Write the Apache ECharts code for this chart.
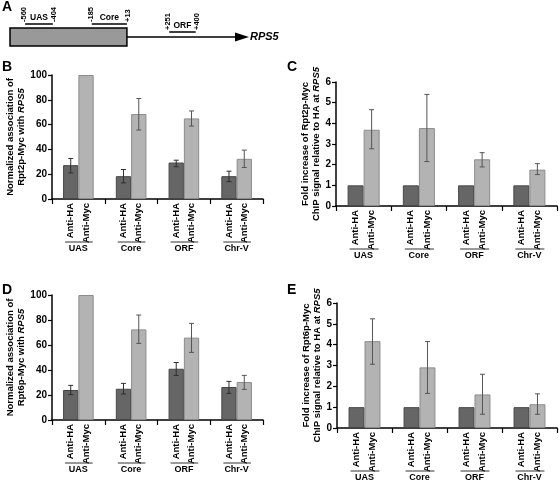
<!DOCTYPE html>
<html><head><meta charset="utf-8">
<script src="https://cdn.jsdelivr.net/npm/echarts@6/dist/echarts.min.js"></script>
<style>html,body{margin:0;padding:0;background:#fff}#c{width:560px;height:484px}</style>
</head><body><div id="c"></div>
<script>
// ---------- data ----------
const categories = ['UAS', 'Core', 'ORF', 'Chr-V'];
const barNames = ['Anti-HA', 'Anti-Myc'];
// Panel B (Rpt2p-Myc, normalized association)
const bHA = [27.3, 18.4, 29.4, 18.4];
const bHALo = [21, 13, 26, 14];
const bHAHi = [32.7, 23.8, 31.3, 22.4];
const bMyc = [100, 68.5, 65, 32.4];
const bMycLo = [null, 55.6, 58.8, 25.4];
const bMycHi = [null, 81, 71, 39.4];
// Panel C (Rpt2p-Myc, fold increase)
const cHA = [1, 1, 1, 1];
const cMyc = [3.69, 3.77, 2.26, 1.76];
const cMycLo = [2.77, 2.15, 1.89, 1.52];
const cMycHi = [4.66, 5.4, 2.58, 2.05];
// Panel D (Rpt6p-Myc, normalized association)
const dHA = [24, 25, 41, 26.4];
const dHALo = [20.3, 20.8, 35.7, 21.3];
const dHAHi = [27.7, 29.3, 46, 30.9];
const dMyc = [100, 72.5, 65.9, 30.4];
const dMycLo = [null, 61.3, 54.1, 24.5];
const dMycHi = [null, 84, 77.3, 35.7];
// Panel E (Rpt6p-Myc, fold increase)
const eHA = [1, 1, 1, 1];
const eMyc = [4.17, 2.91, 1.61, 1.14];
const eMycLo = [3.06, 1.66, 0.66, 0.66];
const eMycHi = [5.24, 4.15, 2.58, 1.64];
// Panel A (gene map, bp relative to ATG)
const regionNames = ['UAS', 'Core', 'ORF'];
const regionStart = [-560, -185, 251];
const regionEnd = [-404, 13, 400];
const startLabels = ['-560', '-185', '+251'];
const endLabels = ['-404', '+13', '+400'];
const promoter = [-645, 13];
const geneEnd = 700;
const geneName = 'RPS5';

// ---------- styles ----------
const FF = '"Liberation Sans", Arial, sans-serif';
const CAT_GAP = 0.42;

function barAxes(gridIndex, max, interval, nameText, nameGap) {
  return {
    x: {
      type: 'category', gridIndex, data: categories,
      axisLine: { lineStyle: { color: '#000', width: 1.5 } },
      axisTick: { show: true, length: 5, lineStyle: { color: '#000', width: 1.2 } },
      axisLabel: { show: false }
    },
    y: {
      type: 'value', gridIndex, min: 0, max, interval,
      axisLine: { show: true, lineStyle: { color: '#000', width: 1.5 } },
      axisTick: { show: true, length: 4, lineStyle: { color: '#000', width: 1.2 } },
      splitLine: { show: false },
      axisLabel: { color: '#000', fontFamily: FF, fontWeight: 'bold', fontSize: 10, margin: 5 },
      name: nameText, nameLocation: 'middle', nameGap, nameRotate: 90,
      nameTextStyle: {
        color: '#000', fontFamily: FF, fontWeight: 'bold', fontSize: 9.5, lineHeight: 11,
        rich: { i: { fontFamily: FF, fontWeight: 'bold', fontStyle: 'italic', fontSize: 9.5, lineHeight: 11, color: '#000' } }
      }
    }
  };
}

function panelSeries(axisIndex, ha, haLo, haHi, myc, mycLo, mycHi) {
  const common = { type: 'bar', xAxisIndex: axisIndex, yAxisIndex: axisIndex, barGap: '0%', barCategoryGap: (CAT_GAP * 100) + '%' };
  const lows = [haLo, mycLo], highs = [haHi, mycHi];
  return [
    Object.assign({}, common, { name: 'Anti-HA', data: ha, itemStyle: { color: '#666666', borderColor: '#474747', borderWidth: 1 } }),
    Object.assign({}, common, { name: 'Anti-Myc', data: myc, itemStyle: { color: '#b3b3b3', borderColor: '#8c8c8c', borderWidth: 1 } }),
    {
      type: 'custom', xAxisIndex: axisIndex, yAxisIndex: axisIndex, z: 5, clip: false,
      data: categories.map((c, i) => [i]),
      renderItem(params, api) {
        const i = api.value(0);
        const base = api.coord([i, 0]);
        const band = api.size([1, 0])[0];
        const bw = band * (1 - CAT_GAP) / 2;
        const xs = [base[0] - bw / 2, base[0] + bw / 2];
        const ch = [];
        for (let k = 0; k < 2; k++) {
          const lo = lows[k] ? lows[k][i] : null, hi = highs[k] ? highs[k][i] : null;
          if (lo != null && hi != null) {
            const p1 = api.coord([i, lo]), p2 = api.coord([i, hi]);
            const col = k === 0 ? '#2e2e2e' : '#555';
            const st = { stroke: col, lineWidth: 1 };
            ch.push({ type: 'line', shape: { x1: xs[k], y1: p1[1], x2: xs[k], y2: p2[1] }, style: st });
            ch.push({ type: 'line', shape: { x1: xs[k] - 2.5, y1: p1[1], x2: xs[k] + 2.5, y2: p1[1] }, style: st });
            ch.push({ type: 'line', shape: { x1: xs[k] - 2.5, y1: p2[1], x2: xs[k] + 2.5, y2: p2[1] }, style: st });
          }
          ch.push({
            type: 'text', x: xs[k], y: base[1] + 4, rotation: Math.PI / 2,
            style: { text: barNames[k], fill: '#000', fontFamily: FF, fontWeight: 'bold', fontSize: 9.5, align: 'right', verticalAlign: 'middle' }
          });
        }
        ch.push({ type: 'line', shape: { x1: xs[0] - bw / 2 + 2, y1: base[1] + 43, x2: xs[1] + bw / 2 - 1, y2: base[1] + 43 }, style: { stroke: '#333', lineWidth: 1 } });
        ch.push({
          type: 'text', x: base[0], y: base[1] + 50,
          style: { text: categories[i], fill: '#000', fontFamily: FF, fontWeight: 'bold', fontSize: 9, align: 'center', verticalAlign: 'middle' }
        });
        return { type: 'group', children: ch };
      }
    }
  ];
}

const axB = barAxes(1, 100, 20, 'Normalized association of\nRpt2p-Myc with {i|RPS5}', 15);
const axC = barAxes(2, 6, 1, 'Fold increase of Rpt2p-Myc\nChIP signal relative to HA at {i|RPS5}', 13);
const axD = barAxes(3, 100, 20, 'Normalized association of\nRpt6p-Myc with {i|RPS5}', 15);
const axE = barAxes(4, 6, 1, 'Fold increase of Rpt6p-Myc\nChIP signal relative to HA at {i|RPS5}', 13);

const letterStyle = { fontFamily: FF, fontWeight: 'bold', fontSize: 14, color: '#000' };

const option = {
  animation: false,
  backgroundColor: '#fff',
  title: [
    { text: 'A', left: 2, top: 0, textStyle: letterStyle, padding: 0 },
    { text: 'B', left: 2, top: 60, textStyle: letterStyle, padding: 0 },
    { text: 'C', left: 287, top: 60, textStyle: letterStyle, padding: 0 },
    { text: 'D', left: 2, top: 283, textStyle: letterStyle, padding: 0 },
    { text: 'E', left: 287, top: 283, textStyle: letterStyle, padding: 0 }
  ],
  grid: [
    { left: 10, top: 28, width: 239, height: 18 },
    { left: 52, top: 75, width: 211, height: 124 },
    { left: 336, top: 82, width: 221, height: 124 },
    { left: 52, top: 295, width: 211, height: 125 },
    { left: 337, top: 303, width: 220, height: 125 }
  ],
  xAxis: [
    { type: 'value', gridIndex: 0, min: promoter[0], max: geneEnd, show: false },
    axB.x, axC.x, axD.x, axE.x
  ],
  yAxis: [
    { type: 'value', gridIndex: 0, min: 0, max: 1, show: false },
    axB.y, axC.y, axD.y, axE.y
  ],
  series: [
    // gene map: promoter box + arrow
    {
      type: 'custom', xAxisIndex: 0, yAxisIndex: 0, clip: false,
      data: [[0]],
      renderItem(params, api) {
        const cs = params.coordSys;
        const x0 = api.coord([promoter[0], 0])[0];
        const x1 = api.coord([promoter[1], 0])[0];
        const xt = api.coord([geneEnd, 0])[0];
        const cy = cs.y + cs.height / 2;
        return {
          type: 'group', children: [
            { type: 'line', shape: { x1: x1, y1: cy, x2: xt - 10, y2: cy }, style: { stroke: '#000', lineWidth: 1.5 } },
            { type: 'polygon', shape: { points: [[xt - 14, cy - 4.5], [xt, cy], [xt - 14, cy + 4.5]] }, style: { fill: '#000' } },
            { type: 'rect', shape: { x: x0, y: cs.y, width: x1 - x0, height: cs.height }, style: { fill: '#999999', stroke: '#000', lineWidth: 1.5 } },
            { type: 'text', x: xt + 1, y: cy, style: { text: geneName, fill: '#000', fontFamily: FF, fontWeight: 'bold', fontStyle: 'italic', fontSize: 11, align: 'left', verticalAlign: 'middle' } }
          ]
        };
      }
    },
    // gene map: amplicon regions
    {
      type: 'custom', xAxisIndex: 0, yAxisIndex: 0, clip: false,
      data: regionNames.map((n, i) => [i]),
      renderItem(params, api) {
        const i = api.value(0);
        const cs = params.coordSys;
        const cy = cs.y + cs.height / 2;
        const xs = api.coord([regionStart[i], 0])[0];
        const xe = api.coord([regionEnd[i], 0])[0];
        const y = regionEnd[i] <= promoter[1] ? cs.y - 4 : cy - 5;
        const numStyle = { fill: '#000', fontFamily: FF, fontWeight: 'bold', fontSize: 7.5, align: 'left', verticalAlign: 'middle' };
        return {
          type: 'group', children: [
            { type: 'line', shape: { x1: xs, y1: y, x2: xe, y2: y }, style: { stroke: '#000', lineWidth: 1.5 } },
            { type: 'text', x: xs - 1, y: y - 2, rotation: Math.PI / 2, style: Object.assign({ text: startLabels[i] }, numStyle) },
            { type: 'text', x: xe + 1, y: y - 2, rotation: Math.PI / 2, style: Object.assign({ text: endLabels[i] }, numStyle) },
            { type: 'text', x: (xs + xe) / 2, y: y - 1.5, style: { text: regionNames[i], fill: '#000', fontFamily: FF, fontWeight: 'bold', fontSize: 8.5, align: 'center', verticalAlign: 'bottom' } }
          ]
        };
      }
    }
  ]
    .concat(panelSeries(1, bHA, bHALo, bHAHi, bMyc, bMycLo, bMycHi))
    .concat(panelSeries(2, cHA, null, null, cMyc, cMycLo, cMycHi))
    .concat(panelSeries(3, dHA, dHALo, dHAHi, dMyc, dMycLo, dMycHi))
    .concat(panelSeries(4, eHA, null, null, eMyc, eMycLo, eMycHi))
};

const chart = echarts.init(document.getElementById('c'), null, { renderer: 'canvas' });
chart.setOption(option);
</script>
</body></html>
